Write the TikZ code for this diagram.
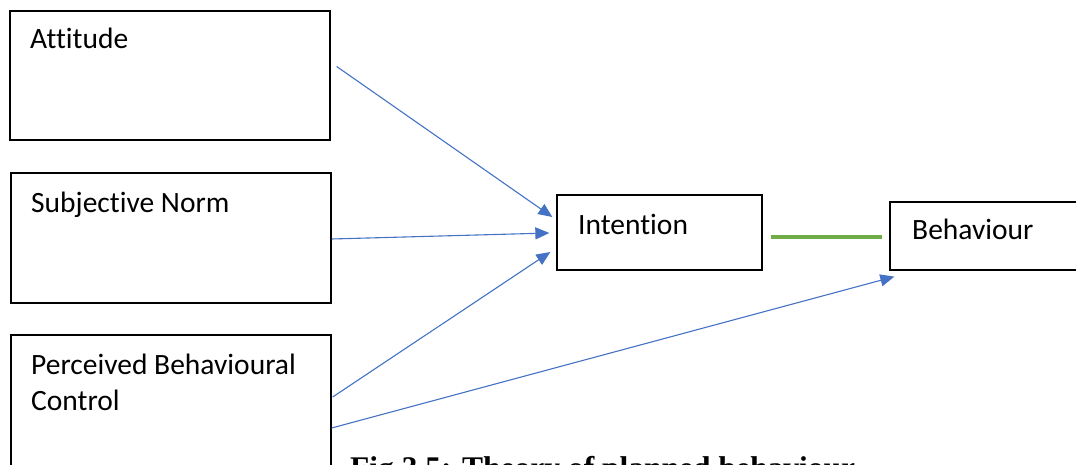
\documentclass[tikz,border=0pt]{standalone}
\usepackage{fontspec}
\setmainfont{Carlito}[Ligatures={NoCommon}]
\newfontfamily\capfont{Liberation Serif}
\usetikzlibrary{arrows.meta}
\definecolor{arrblue}{HTML}{4472C4}
\definecolor{lngreen}{HTML}{70AD47}
\begin{document}
\begin{tikzpicture}[x=1pt,y=-1pt,
  box/.style={draw=black,line width=1.3pt,fill=white,inner sep=0pt},
  lbl/.style={anchor=base west,inner sep=0pt,font=\fontsize{29.5}{35}\selectfont},
  arr/.style={draw=arrblue,line width=1.1pt,-{Triangle[length=14pt,width=12pt]}},
  gline/.style={draw=lngreen,line width=3.5pt}]
\useasboundingbox (0,0) rectangle (1076,465);
\clip (0,0) rectangle (1076,465);
% boxes
\node[box,minimum width=320,minimum height=129] (att) at (170,75.5) {};
\node[box,minimum width=320,minimum height=130] (subj) at (171,238) {};
\node[box,minimum width=320,minimum height=160] (per) at (171,415) {};
\node[box,minimum width=205,minimum height=75] (int) at (659.5,232.5) {};
\node[box,minimum width=210,minimum height=68] (beh) at (995,236) {};
% labels
\node[lbl] (attT) at (30,49) {Attitude};
\node[lbl] (subjT) at (31,213) {Subjective Norm};
\node[lbl] (perT1) at (31,374) {Perceived Behavioural};
\node[lbl] (perT2) at (31,410) {Control};
\node[lbl] (intT) at (578,234) {Intention};
\node[lbl] (behT) at (912,240) {Behaviour};
% connectors
\draw[arr] ([shift={(6,-9)}]att.east) -- ([shift={(-4,-15.5)}]int.west);
\draw[arr] ([shift={(0,1)}]subj.east) -- ([shift={(-7,0.5)}]int.west);
\draw[arr] ([shift={(1,-18)}]per.east) -- ([shift={(-6,19.5)}]int.west);
\draw[arr] ([shift={(0,13)}]per.east) -- ([shift={(5,6)}]beh.south west);
\draw[gline] ([shift={(8,4.5)}]int.east) -- ([shift={(-7,1)}]beh.west);
% caption
\node[anchor=base west,inner sep=0pt,font=\capfont\bfseries\fontsize{31.5}{38}\selectfont] (cap) at (350,478) {Fig 3.5: Theory of planned behaviour};
\end{tikzpicture}
\end{document}
